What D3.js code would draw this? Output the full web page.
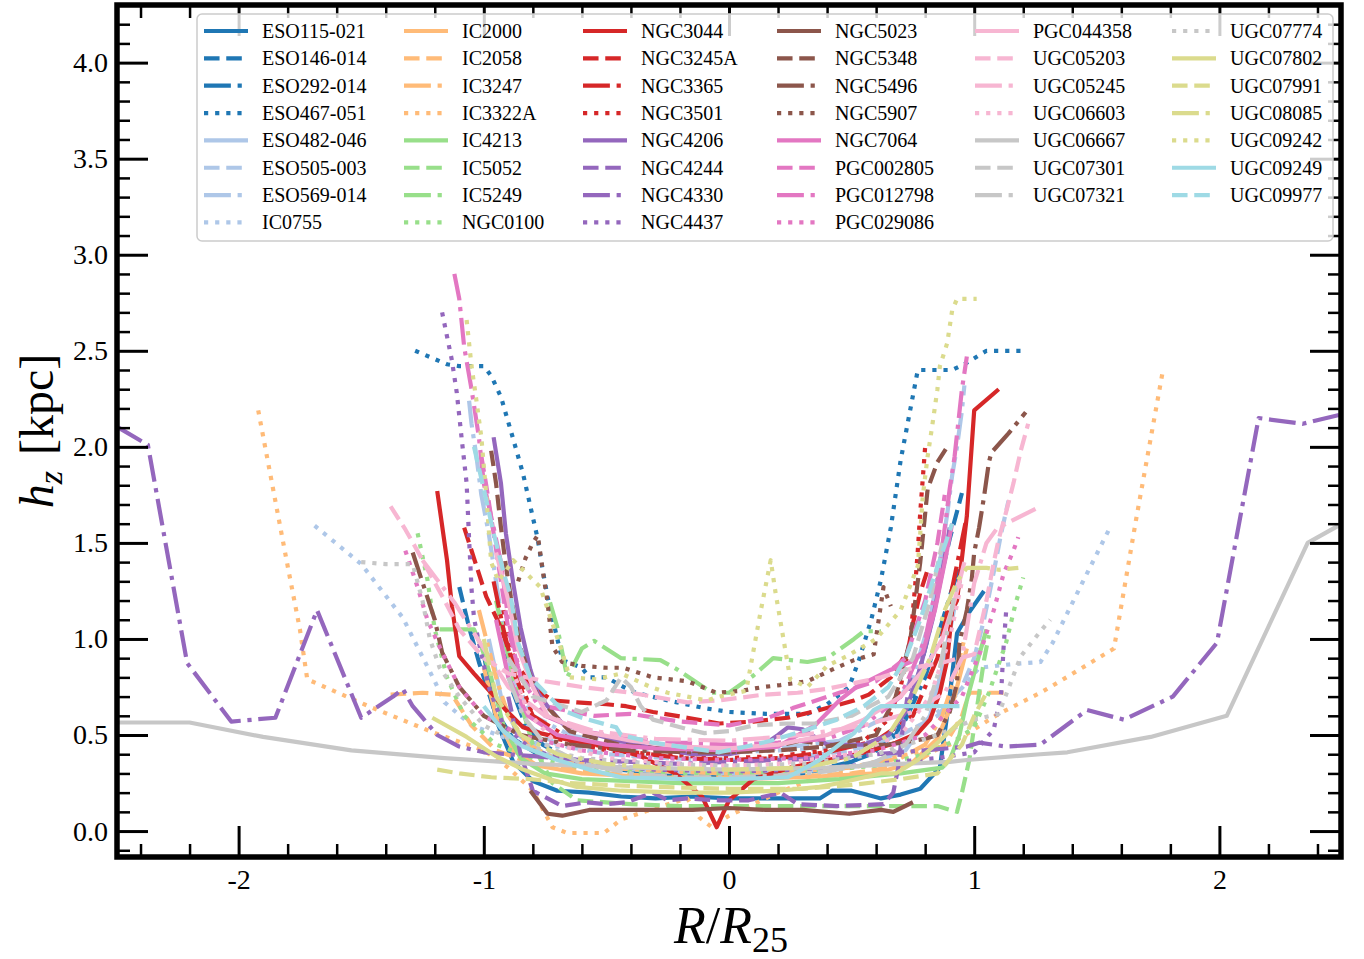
<!DOCTYPE html>
<html>
<head>
<meta charset="utf-8">
<script src="https://cdn.jsdelivr.net/npm/d3@7"></script>
<style>
  body { margin: 0; background: #fff; }
  text { font-family: "Liberation Serif", "DejaVu Serif", serif; fill: #000; }
</style>
</head>
<body>
<svg id="chart" width="1364" height="959"></svg>
<script>
// Galaxy names, in plotting / legend order
const galaxies = [
  "ESO115-021","ESO146-014","ESO292-014","ESO467-051","ESO482-046","ESO505-003","ESO569-014","IC0755",
  "IC2000","IC2058","IC3247","IC3322A","IC4213","IC5052","IC5249","NGC0100",
  "NGC3044","NGC3245A","NGC3365","NGC3501","NGC4206","NGC4244","NGC4330","NGC4437",
  "NGC5023","NGC5348","NGC5496","NGC5907","NGC7064","PGC002805","PGC012798","PGC029086",
  "PGC044358","UGC05203","UGC05245","UGC06603","UGC06667","UGC07301","UGC07321",
  "UGC07774","UGC07802","UGC07991","UGC08085","UGC09242","UGC09249","UGC09977"
];

// Radius in units of R25, one array per galaxy
const radii = [
  [-1.00,-0.95,-0.88,-0.80,-0.70,-0.57,-0.44,-0.30,-0.15,0.00,0.15,0.30,0.37,0.42,0.50,0.56,0.62,0.70,0.78,0.86,0.90,0.93,0.98,1.04],
  [-1.10,-1.06,-1.02,-0.96,-0.88,-0.78,-0.62,-0.45,-0.30,-0.15,0.00,0.15,0.30,0.45,0.58,0.68,0.75,0.81,0.86,0.90,0.95],
  [-0.92,-0.88,-0.83,-0.76,-0.66,-0.52,-0.36,-0.20,0.00,0.20,0.36,0.50,0.62,0.72,0.80,0.86,0.90,0.94],
  [-1.28,-1.15,-1.10,-1.00,-0.97,-0.93,-0.88,-0.84,-0.81,-0.78,-0.76,-0.74,-0.70,-0.68,-0.60,-0.57,-0.50,-0.43,-0.38,-0.25,-0.10,0.00,0.15,0.32,0.40,0.49,0.53,0.58,0.62,0.66,0.70,0.77,0.84,0.91,0.96,1.05,1.19],
  [-0.98,-0.93,-0.86,-0.75,-0.55,-0.30,0.00,0.30,0.55,0.72,0.82,0.87,0.91,0.94],
  [-0.92,-0.88,-0.82,-0.70,-0.50,-0.25,0.00,0.25,0.50,0.70,0.85,0.95,1.00,1.04,1.08,1.11,1.14],
  [-1.06,-1.05,-1.03,-1.01,-0.98,-0.95,-0.92,-0.88,-0.80,-0.65,-0.45,-0.20,0.00,0.20,0.45,0.65,0.75,0.82,0.86,0.89,0.91,0.93,0.95,0.96],
  [-1.69,-1.50,-1.33,-1.20,-1.16,-1.05,-0.90,-0.70,-0.40,0.00,0.40,0.65,0.80,0.92,1.02,1.16,1.27,1.32,1.44,1.55],
  [-1.00,-0.95,-0.88,-0.78,-0.60,-0.30,0.00,0.30,0.60,0.75,0.85,0.92,0.97],
  [-1.38,-1.25,-1.13,-1.05,-0.95,-0.80,-0.50,-0.20,0.00,0.20,0.50,0.75,0.88,0.95,0.98,1.05,1.12],
  [-1.02,-0.99,-0.95,-0.90,-0.82,-0.70,-0.50,-0.25,0.00,0.25,0.50,0.70,0.80,0.87,0.92,0.96],
  [-1.92,-1.80,-1.75,-1.72,-1.47,-1.20,-1.00,-0.90,-0.80,-0.72,-0.66,-0.51,-0.44,-0.30,-0.17,-0.12,-0.07,0.00,0.20,0.40,0.60,0.80,0.90,1.00,1.10,1.27,1.35,1.57,1.66,1.77],
  [-1.18,-1.04,-1.01,-0.97,-0.92,-0.85,-0.75,-0.60,-0.40,-0.20,0.00,0.20,0.45,0.70,0.87,0.90,0.94,0.97,1.01,1.05],
  [-0.95,-0.88,-0.80,-0.72,-0.62,-0.40,-0.20,0.00,0.20,0.40,0.60,0.77,0.85,0.93,0.95,0.98,1.01,1.04,1.06],
  [-0.73,-0.70,-0.66,-0.60,-0.55,-0.44,-0.28,-0.21,-0.07,0.00,0.10,0.18,0.32,0.40,0.51,0.55,0.62],
  [-1.27,-1.23,-1.20,-1.15,-1.08,-0.95,-0.80,-0.60,-0.30,0.00,0.30,0.60,0.80,0.92,1.00,1.06,1.13,1.17,1.20],
  [-1.19,-1.15,-1.13,-1.10,-1.04,-0.97,-0.91,-0.84,-0.77,-0.64,-0.50,-0.36,-0.22,-0.11,-0.05,0.00,0.10,0.25,0.40,0.49,0.58,0.68,0.77,0.82,0.86,0.89,0.91,0.93,0.97,1.00,1.10],
  [-1.08,-0.99,-0.93,-0.89,-0.80,-0.72,-0.62,-0.50,-0.42,-0.31,-0.17,-0.04,0.10,0.24,0.37,0.51,0.57,0.66,0.73,0.75,0.78,0.81],
  [-0.96,-0.92,-0.87,-0.80,-0.65,-0.45,-0.20,0.00,0.20,0.40,0.60,0.75,0.85,0.90,0.94,0.97],
  [-0.92,-0.87,-0.80,-0.70,-0.50,-0.30,0.00,0.20,0.40,0.55,0.65,0.70,0.74,0.76,0.77,0.78,0.79,0.80],
  [-0.96,-0.93,-0.91,-0.88,-0.85,-0.81,-0.78,-0.74,-0.68,-0.57,-0.45,-0.30,-0.15,0.00,0.12,0.20,0.24,0.30,0.40,0.55,0.65,0.72,0.78,0.83,0.87,0.90],
  [-0.90,-0.85,-0.80,-0.74,-0.68,-0.58,-0.50,-0.42,-0.31,-0.25,-0.17,-0.04,0.08,0.21,0.28,0.44,0.63,0.67,0.69,0.71,0.74],
  [-2.49,-2.37,-2.21,-2.03,-1.85,-1.68,-1.50,-1.37,-1.33,-1.29,-1.25,-1.19,-1.10,-1.00,-0.80,-0.60,-0.40,-0.20,0.00,0.20,0.40,0.60,0.80,0.97,1.02,1.13,1.27,1.46,1.61,1.81,1.99,2.16,2.34,2.50],
  [-1.17,-1.13,-1.11,-1.09,-1.07,-1.06,-1.05,-1.04,-1.02,-0.98,-0.92,-0.80,-0.60,-0.30,0.00,0.30,0.60,0.85,1.00,1.08,1.11,1.12,1.13],
  [-0.81,-0.74,-0.68,-0.57,-0.44,-0.30,-0.15,0.00,0.15,0.30,0.49,0.62,0.67,0.75],
  [-0.97,-0.95,-0.93,-0.91,-0.89,-0.85,-0.78,-0.65,-0.45,-0.20,0.00,0.20,0.40,0.60,0.68,0.74,0.78,0.81,0.85,0.89],
  [-1.29,-1.20,-1.17,-1.10,-1.00,-0.85,-0.65,-0.40,-0.15,0.00,0.15,0.29,0.45,0.65,0.80,0.85,0.90,0.93,0.94,0.97,0.99,1.00,1.02,1.04,1.06,1.07,1.14,1.21],
  [-0.86,-0.83,-0.80,-0.78,-0.76,-0.74,-0.72,-0.68,-0.60,-0.50,-0.43,-0.31,-0.17,-0.05,0.05,0.14,0.21,0.32,0.42,0.51,0.59,0.63,0.66],
  [-0.95,-0.90,-0.82,-0.70,-0.50,-0.30,0.00,0.20,0.35,0.45,0.52,0.66,0.74,0.79,0.84,0.88,0.91],
  [-1.01,-0.99,-0.96,-0.93,-0.90,-0.85,-0.75,-0.55,-0.40,-0.20,0.00,0.16,0.26,0.45,0.60,0.72,0.80,0.85,0.88],
  [-1.12,-1.10,-1.08,-1.05,-1.02,-1.00,-0.96,-0.93,-0.90,-0.85,-0.75,-0.60,-0.40,-0.20,0.00,0.20,0.40,0.55,0.70,0.80,0.85,0.88,0.90,0.92,0.95,0.97],
  [-1.32,-1.27,-1.23,-1.17,-1.10,-1.00,-0.85,-0.60,-0.30,0.00,0.30,0.60,0.80,0.95,1.03,1.08,1.12,1.14,1.16,1.18],
  [-0.95,-0.90,-0.86,-0.80,-0.74,-0.60,-0.40,-0.20,0.00,0.20,0.40,0.55,0.70,0.80,0.87,0.92,0.96],
  [-1.38,-1.32,-1.28,-1.16,-1.10,-1.00,-0.90,-0.75,-0.60,-0.40,-0.31,-0.17,-0.04,0.14,0.28,0.40,0.51,0.62,0.75,0.88,1.00,1.05,1.08,1.10,1.13,1.16,1.19,1.22],
  [-1.25,-1.12,-1.00,-0.90,-0.75,-0.55,-0.30,0.00,0.30,0.55,0.75,0.88,0.95,1.00,1.05,1.09,1.13,1.27],
  [-0.90,-0.82,-0.70,-0.50,-0.20,0.00,0.20,0.50,0.70,0.82,0.90,0.95],
  [-2.50,-2.20,-1.90,-1.54,-1.16,-0.80,-0.40,0.00,0.40,0.70,0.90,0.97,1.27,1.38,1.72,2.03,2.36,2.50],
  [-0.90,-0.80,-0.60,-0.50,-0.44,-0.40,-0.36,-0.31,-0.17,-0.10,0.00,0.10,0.24,0.35,0.50,0.65,0.75,0.82,0.87],
  [-0.90,-0.84,-0.75,-0.60,-0.40,-0.20,0.00,0.20,0.40,0.60,0.72,0.80,0.86,0.90,0.93],
  [-1.50,-1.40,-1.29,-1.25,-1.22,-1.18,-1.10,-1.00,-0.85,-0.60,-0.30,0.00,0.30,0.60,0.85,1.00,1.10,1.19,1.27,1.31],
  [-1.21,-1.07,-0.95,-0.84,-0.73,-0.62,-0.44,-0.20,0.00,0.20,0.37,0.45,0.62,0.68,0.77,0.86,0.95],
  [-1.19,-1.10,-0.97,-0.81,-0.65,-0.50,-0.30,0.00,0.30,0.50,0.70,0.85,0.95,1.00,1.05],
  [-1.00,-0.95,-0.85,-0.70,-0.50,-0.30,0.00,0.30,0.50,0.65,0.75,0.82,0.88,0.93,0.97,1.05,1.10,1.18],
  [-1.07,-1.05,-1.03,-1.01,-0.99,-0.97,-0.94,-0.88,-0.77,-0.72,-0.68,-0.65,-0.54,-0.44,-0.32,-0.25,-0.09,-0.04,0.07,0.13,0.17,0.19,0.25,0.32,0.40,0.48,0.60,0.70,0.77,0.78,0.79,0.81,0.83,0.85,0.86,0.89,0.91,0.93,1.01],
  [-1.00,-0.92,-0.84,-0.70,-0.57,-0.44,-0.17,0.00,0.24,0.37,0.51,0.59,0.62,0.73,0.94],
  [-1.04,-1.00,-0.96,-0.92,-0.89,-0.86,-0.81,-0.68,-0.60,-0.46,-0.44,-0.31,-0.15,-0.04,0.07,0.17,0.30,0.44,0.55,0.65,0.72,0.78,0.83,0.87,0.91]
];

// Disc scale height h_z in kpc, matching radii entry by entry
const scaleHeights = [
  [0.92,0.58,0.36,0.26,0.21,0.20,0.18,0.17,0.18,0.17,0.17,0.17,0.17,0.21,0.21,0.19,0.17,0.19,0.22,0.33,0.70,1.03,1.14,1.25],
  [1.27,1.06,0.88,0.64,0.48,0.40,0.35,0.32,0.30,0.29,0.28,0.29,0.30,0.34,0.40,0.50,0.70,1.00,1.30,1.52,1.76],
  [0.95,0.72,0.55,0.45,0.38,0.34,0.31,0.30,0.29,0.30,0.32,0.36,0.44,0.58,0.80,1.05,1.22,1.38],
  [2.50,2.43,2.42,2.42,2.37,2.26,2.04,1.86,1.69,1.52,1.36,1.22,1.00,0.89,0.85,0.80,0.80,0.75,0.72,0.68,0.64,0.62,0.61,0.61,0.66,0.75,0.89,1.10,1.31,1.58,1.93,2.40,2.40,2.40,2.43,2.50,2.50],
  [1.00,0.70,0.50,0.40,0.34,0.31,0.30,0.31,0.34,0.42,0.60,0.85,1.10,1.30],
  [1.00,0.75,0.55,0.45,0.40,0.38,0.37,0.38,0.42,0.50,0.60,0.75,0.90,1.10,1.35,1.55,1.72],
  [2.24,2.12,1.95,1.75,1.55,1.30,1.05,0.80,0.60,0.50,0.45,0.42,0.42,0.43,0.47,0.60,0.80,1.10,1.40,1.65,1.85,2.00,2.19,2.32],
  [1.59,1.39,1.11,0.78,0.67,0.55,0.48,0.44,0.42,0.41,0.43,0.48,0.56,0.70,0.85,0.87,0.88,0.98,1.29,1.57],
  [0.85,0.60,0.42,0.34,0.30,0.28,0.27,0.28,0.30,0.36,0.48,0.70,0.95],
  [0.71,0.72,0.71,0.55,0.42,0.35,0.30,0.28,0.28,0.28,0.30,0.35,0.45,0.60,0.72,0.72,0.72],
  [1.15,1.00,0.80,0.60,0.45,0.37,0.33,0.31,0.30,0.31,0.33,0.38,0.45,0.60,0.80,1.00],
  [2.19,1.38,1.05,0.79,0.65,0.51,0.42,0.33,0.21,0.02,-0.01,-0.01,0.06,0.12,0.17,0.07,0.02,0.08,0.20,0.30,0.36,0.42,0.45,0.53,0.61,0.72,0.78,0.95,1.62,2.40],
  [1.05,1.05,0.96,0.80,0.55,0.38,0.30,0.27,0.26,0.25,0.25,0.25,0.27,0.30,0.33,0.37,0.50,0.68,0.87,1.05],
  [1.20,0.80,0.45,0.25,0.16,0.14,0.13,0.13,0.13,0.13,0.13,0.13,0.13,0.10,0.20,0.37,0.63,0.89,1.02],
  [1.19,1.06,0.80,0.95,0.99,0.90,0.89,0.84,0.72,0.72,0.81,0.90,0.88,0.90,1.00,1.04,1.04],
  [1.55,1.31,1.05,0.80,0.60,0.45,0.38,0.33,0.30,0.30,0.31,0.34,0.40,0.47,0.54,0.72,0.98,1.19,1.32],
  [1.77,1.41,1.17,0.91,0.82,0.72,0.63,0.54,0.51,0.47,0.44,0.39,0.30,0.18,0.02,0.16,0.27,0.33,0.37,0.39,0.42,0.46,0.51,0.58,0.72,0.89,1.15,1.20,1.64,2.19,2.30],
  [1.58,1.22,1.06,0.91,0.75,0.68,0.67,0.66,0.65,0.62,0.59,0.56,0.57,0.59,0.63,0.68,0.71,0.80,0.94,1.08,1.24,1.36],
  [1.30,1.05,0.80,0.60,0.48,0.42,0.38,0.37,0.38,0.41,0.47,0.60,0.90,1.20,1.45,1.64],
  [1.15,0.85,0.60,0.48,0.42,0.40,0.38,0.39,0.42,0.47,0.58,0.75,1.00,1.29,1.46,1.66,1.83,2.00],
  [2.05,1.81,1.55,1.29,1.06,0.84,0.72,0.65,0.56,0.51,0.47,0.43,0.40,0.40,0.43,0.50,0.54,0.53,0.45,0.45,0.50,0.62,0.85,1.10,1.35,1.58],
  [0.70,0.40,0.21,0.17,0.13,0.15,0.14,0.15,0.20,0.16,0.17,0.16,0.16,0.20,0.14,0.13,0.14,0.20,0.33,0.55,0.80],
  [2.10,2.01,0.875,0.57,0.59,1.15,0.59,0.70,0.74,0.65,0.59,0.50,0.44,0.41,0.39,0.37,0.36,0.35,0.36,0.37,0.38,0.40,0.42,0.44,0.46,0.44,0.45,0.63,0.58,0.70,0.98,2.15,2.12,2.17],
  [2.70,2.45,2.28,2.04,1.81,1.52,1.26,1.11,0.98,0.75,0.55,0.42,0.35,0.32,0.31,0.32,0.35,0.38,0.41,0.53,0.72,0.96,1.14],
  [0.21,0.09,0.08,0.11,0.11,0.11,0.11,0.12,0.11,0.11,0.09,0.11,0.10,0.15],
  [1.98,1.81,1.58,1.38,1.22,0.95,0.70,0.52,0.45,0.42,0.41,0.42,0.44,0.50,0.70,1.00,1.40,1.78,1.92,2.00],
  [1.45,1.10,0.93,0.75,0.60,0.50,0.45,0.42,0.41,0.41,0.43,0.47,0.44,0.45,0.48,0.50,0.62,0.77,0.98,1.15,1.31,1.45,1.58,1.74,1.92,1.97,2.07,2.18],
  [1.30,1.42,1.50,1.54,1.36,1.19,0.96,0.88,0.86,0.85,0.85,0.80,0.78,0.72,0.73,0.75,0.76,0.78,0.84,0.89,0.92,1.27,1.17],
  [1.10,0.80,0.60,0.50,0.45,0.43,0.42,0.44,0.55,0.68,0.75,0.84,0.88,0.93,1.15,1.40,1.60],
  [1.95,1.80,1.55,1.30,1.05,0.80,0.65,0.60,0.61,0.57,0.55,0.59,0.64,0.72,0.78,0.90,1.20,1.50,1.75],
  [2.90,2.77,2.52,2.30,2.05,1.81,1.58,1.40,1.10,0.80,0.60,0.52,0.48,0.46,0.45,0.46,0.48,0.55,0.70,1.00,1.30,1.58,1.78,1.95,2.30,2.47],
  [1.46,1.27,1.10,0.93,0.75,0.60,0.50,0.42,0.38,0.37,0.38,0.42,0.50,0.70,0.95,1.15,1.34,1.40,1.46,1.53],
  [1.45,1.20,0.95,0.75,0.60,0.52,0.47,0.44,0.43,0.45,0.50,0.58,0.70,0.85,1.00,1.20,1.40],
  [1.69,1.57,1.48,1.20,1.05,0.90,0.82,0.78,0.75,0.72,0.70,0.67,0.68,0.71,0.72,0.74,0.77,0.80,0.85,0.88,0.92,1.20,1.40,1.52,1.66,1.81,1.98,2.12],
  [1.41,1.19,0.95,0.75,0.60,0.52,0.48,0.47,0.50,0.55,0.62,0.72,0.90,1.29,1.50,1.57,1.60,1.69],
  [0.90,0.62,0.45,0.38,0.35,0.34,0.35,0.40,0.50,0.70,1.00,1.30],
  [0.565,0.565,0.49,0.42,0.38,0.35,0.33,0.32,0.33,0.35,0.36,0.37,0.40,0.41,0.49,0.60,1.50,1.60],
  [0.90,0.70,0.62,0.68,0.80,0.75,0.65,0.58,0.53,0.51,0.52,0.55,0.56,0.56,0.60,0.70,0.90,1.20,1.50],
  [0.80,0.60,0.45,0.35,0.30,0.28,0.28,0.29,0.31,0.36,0.45,0.60,0.85,1.10,1.30],
  [1.40,1.39,1.39,1.20,1.00,0.85,0.70,0.55,0.45,0.38,0.35,0.34,0.35,0.40,0.50,0.58,0.61,0.91,1.04,1.10],
  [0.59,0.49,0.39,0.32,0.27,0.23,0.21,0.20,0.20,0.21,0.23,0.25,0.30,0.30,0.37,0.47,0.58],
  [0.32,0.30,0.28,0.27,0.25,0.24,0.23,0.22,0.22,0.24,0.27,0.30,0.45,0.60,0.72],
  [1.00,0.70,0.50,0.40,0.35,0.33,0.32,0.33,0.38,0.50,0.70,0.90,1.15,1.30,1.37,1.37,1.36,1.37],
  [2.66,2.42,2.24,2.05,1.75,1.40,1.30,1.41,1.27,1.08,0.93,0.80,0.79,0.82,0.75,0.72,0.68,0.70,0.73,1.15,1.41,1.24,0.79,0.75,0.86,0.91,1.00,1.15,1.38,1.55,1.74,1.95,2.12,2.30,2.42,2.54,2.71,2.77,2.77],
  [0.65,0.52,0.44,0.37,0.32,0.28,0.27,0.27,0.28,0.37,0.51,0.63,0.65,0.65,0.65],
  [2.00,1.78,1.55,1.35,1.22,0.98,0.80,0.63,0.59,0.54,0.50,0.46,0.43,0.41,0.44,0.47,0.52,0.58,0.65,0.75,0.90,1.10,1.30,1.45,1.60]
];

// Tick values and their labels
const xMajorTicks = [-2, -1, 0, 1, 2];
const xTickLabels = ["-2", "-1", "0", "1", "2"];
const yMajorTicks = [0, 0.5, 1, 1.5, 2, 2.5, 3, 3.5, 4];
const yTickLabels = ["0.0", "0.5", "1.0", "1.5", "2.0", "2.5", "3.0", "3.5", "4.0"];

// ---- layout ----
const plotLeft = 117, plotRight = 1341, plotTop = 5, plotBottom = 857;
const x = d3.scaleLinear().domain([-2.5, 2.5]).range([116, 1342]);
const y = d3.scaleLinear().domain([-0.135, 4.3]).range([plotBottom, plotTop]);

// one colour per group of four galaxies, line style cycles inside the group
const palette = ["#1f77b4","#aec7e8","#ffbb78","#98df8a","#d62728","#9467bd",
                 "#8c564b","#e377c2","#f7b6d2","#c7c7c7","#dbdb8d","#9edae5"];
const LW = 4.2;
const dashStyles = ["none",
  `${3.7*LW},${1.6*LW}`,
  `${6.4*LW},${1.6*LW},${LW},${1.6*LW}`,
  `${LW},${1.65*LW}`];
const colorOf = i => palette[Math.floor(i / 4)];
const dashOf = i => dashStyles[i % 4];

const svg = d3.select("#chart");
svg.append("defs").append("clipPath").attr("id", "plotClip")
  .append("rect").attr("x", plotLeft).attr("y", plotTop)
  .attr("width", plotRight - plotLeft).attr("height", plotBottom - plotTop);

// ---- profiles ----
const line = d3.line().x(d => x(d[0])).y(d => y(d[1]));
const curves = svg.append("g").attr("clip-path", "url(#plotClip)");
galaxies.forEach((name, i) => {
  const pts = radii[i].map((r, j) => [r, scaleHeights[i][j]]);
  curves.append("path")
    .datum(pts)
    .attr("d", line)
    .attr("fill", "none")
    .attr("stroke", colorOf(i))
    .attr("stroke-width", LW)
    .attr("stroke-dasharray", dashOf(i))
    .attr("stroke-linejoin", "round");
});

// ---- axes: inward ticks on all four sides ----
const xMinorTicks = d3.range(-24, 25, 2).map(v => v / 10).filter(v => !xMajorTicks.includes(v));
const yMinorTicks = d3.range(-1, 44, 1).map(v => v / 10).filter(v => Math.abs(v * 2 - Math.round(v * 2)) > 1e-6);

function styleAxis(g, width) {
  g.attr("font-family", null).attr("font-size", null);
  g.select(".domain").remove();
  g.selectAll(".tick line").attr("stroke", "#000").attr("stroke-width", width);
  g.selectAll(".tick text")
    .style("font-family", "'Liberation Serif', 'DejaVu Serif', serif")
    .style("font-size", "28px").attr("fill", "#000");
}

const axes = svg.append("g");
// bottom
axes.append("g").attr("transform", `translate(0,${plotBottom})`)
  .call(d3.axisBottom(x).tickValues(xMajorTicks).tickSize(-31).tickPadding(12)
    .tickFormat((d, i) => xTickLabels[i]))
  .call(g => styleAxis(g, 3));
axes.append("g").attr("transform", `translate(0,${plotBottom})`)
  .call(d3.axisBottom(x).tickValues(xMinorTicks).tickSize(-13).tickFormat(""))
  .call(g => styleAxis(g, 2.5));
// top
axes.append("g").attr("transform", `translate(0,${plotTop})`)
  .call(d3.axisTop(x).tickValues(xMajorTicks).tickSize(-31).tickFormat(""))
  .call(g => styleAxis(g, 3));
axes.append("g").attr("transform", `translate(0,${plotTop})`)
  .call(d3.axisTop(x).tickValues(xMinorTicks).tickSize(-13).tickFormat(""))
  .call(g => styleAxis(g, 2.5));
// left
axes.append("g").attr("transform", `translate(${plotLeft},0)`)
  .call(d3.axisLeft(y).tickValues(yMajorTicks).tickSize(-31).tickPadding(9)
    .tickFormat((d, i) => yTickLabels[i]))
  .call(g => styleAxis(g, 3));
axes.append("g").attr("transform", `translate(${plotLeft},0)`)
  .call(d3.axisLeft(y).tickValues(yMinorTicks).tickSize(-13).tickFormat(""))
  .call(g => styleAxis(g, 2.5));
// right
axes.append("g").attr("transform", `translate(${plotRight},0)`)
  .call(d3.axisRight(y).tickValues(yMajorTicks).tickSize(-31).tickFormat(""))
  .call(g => styleAxis(g, 3));
axes.append("g").attr("transform", `translate(${plotRight},0)`)
  .call(d3.axisRight(y).tickValues(yMinorTicks).tickSize(-13).tickFormat(""))
  .call(g => styleAxis(g, 2.5));

// frame
svg.append("rect")
  .attr("x", plotLeft).attr("y", plotTop)
  .attr("width", plotRight - plotLeft).attr("height", plotBottom - plotTop)
  .attr("fill", "none").attr("stroke", "#000").attr("stroke-width", 5.5);

// ---- axis titles ----
const yTitle = svg.append("text")
  .attr("transform", "translate(53,431) rotate(-90)")
  .attr("text-anchor", "middle")
  .style("font-size", "48px");
yTitle.append("tspan").style("font-style", "italic").text("h");
yTitle.append("tspan").style("font-style", "italic").style("font-size", "34px").attr("dy", 9).text("z");
yTitle.append("tspan").attr("dy", -9).attr("dx", 16).text("[kpc]");

const xTitle = svg.append("text")
  .attr("x", 731).attr("y", 943)
  .attr("text-anchor", "middle")
  .style("font-size", "52px");
xTitle.append("tspan").style("font-style", "italic").text("R");
xTitle.append("tspan").text("/");
xTitle.append("tspan").style("font-style", "italic").text("R");
xTitle.append("tspan").style("font-size", "36px").attr("dy", 9).text("25");

// ---- legend: six columns, filled column by column ----
const legendColumns = [0, 8, 16, 24, 32, 39];
const handleX = [204, 404, 583, 777, 975, 1172];
const rowY0 = 31, rowStep = 27.35, handleLen = 44, textGap = 14;

const legend = svg.append("g");
legend.append("rect")
  .attr("x", 197).attr("y", 14).attr("width", 1136).attr("height", 227)
  .attr("rx", 5).attr("ry", 5)
  .attr("fill", "#fff").attr("fill-opacity", 0.8)
  .attr("stroke", "#cccccc").attr("stroke-width", 1.5);

galaxies.forEach((name, i) => {
  let col = 0;
  for (let c = 0; c < legendColumns.length; c++) if (i >= legendColumns[c]) col = c;
  const row = i - legendColumns[col];
  const cy = rowY0 + row * rowStep;
  const hx = handleX[col];
  legend.append("line")
    .attr("x1", hx).attr("x2", hx + handleLen)
    .attr("y1", cy).attr("y2", cy)
    .attr("stroke", colorOf(i)).attr("stroke-width", LW)
    .attr("stroke-dasharray", dashOf(i));
  legend.append("text")
    .attr("x", hx + handleLen + textGap).attr("y", cy)
    .attr("dy", "0.35em")
    .style("font-size", "20px")
    .text(name);
});
</script>
</body>
</html>
